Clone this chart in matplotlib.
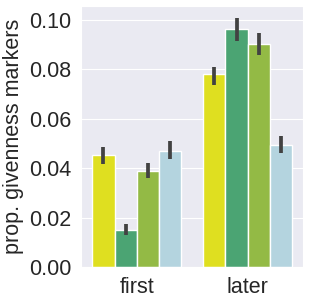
import numpy as np
import matplotlib
matplotlib.use("Agg")
import matplotlib.pyplot as plt
import seaborn as sns

sns.set_style("darkgrid")
plt.rcParams['font.family'] = ['Liberation Sans', 'DejaVu Sans']

groups = ["first", "later"]
hue_colors = ["yellow", "mediumseagreen", "yellowgreen", "lightblue"]
means = [
    [0.0455, 0.0150, 0.0389, 0.0469],   # first
    [0.0781, 0.0963, 0.0904, 0.0493],   # later
]
lows = [
    [0.0419, 0.0129, 0.0359, 0.0436],
    [0.0738, 0.0917, 0.0858, 0.0463],
]
highs = [
    [0.0484, 0.0172, 0.0423, 0.0510],
    [0.0811, 0.1008, 0.0949, 0.0529],
]

fig = plt.figure(figsize=(3.1, 3.03), dpi=100)
ax = fig.add_axes([0.262, 0.119, 0.716, 0.861])

n = len(hue_colors)
w = 0.8 / n
for j, c in enumerate(hue_colors):
    col = sns.desaturate(c, 0.75)
    for i in range(len(groups)):
        x = i - 0.4 + w * (j + 0.5)
        ax.bar(x, means[i][j], width=w, color=col, edgecolor="white", linewidth=1)
        ax.plot([x, x], [lows[i][j], highs[i][j]], color="#424242", lw=2.7, solid_capstyle="butt")

ax.set_xlim(-0.5, 1.5)
ax.set_ylim(0, 0.1057)
ax.set_xticks(range(len(groups)))
ax.set_xticklabels(groups)
ax.set_yticks([0, 0.02, 0.04, 0.06, 0.08, 0.10])
ax.set_yticklabels(["0.00", "0.02", "0.04", "0.06", "0.08", "0.10"])
ax.tick_params(labelsize=15.5, colors="#262626")
ax.set_ylabel("prop. givenness markers", fontsize=15.5, color="#262626")
ax.grid(axis="x", visible=False)

fig.savefig("out.png", dpi=100)
